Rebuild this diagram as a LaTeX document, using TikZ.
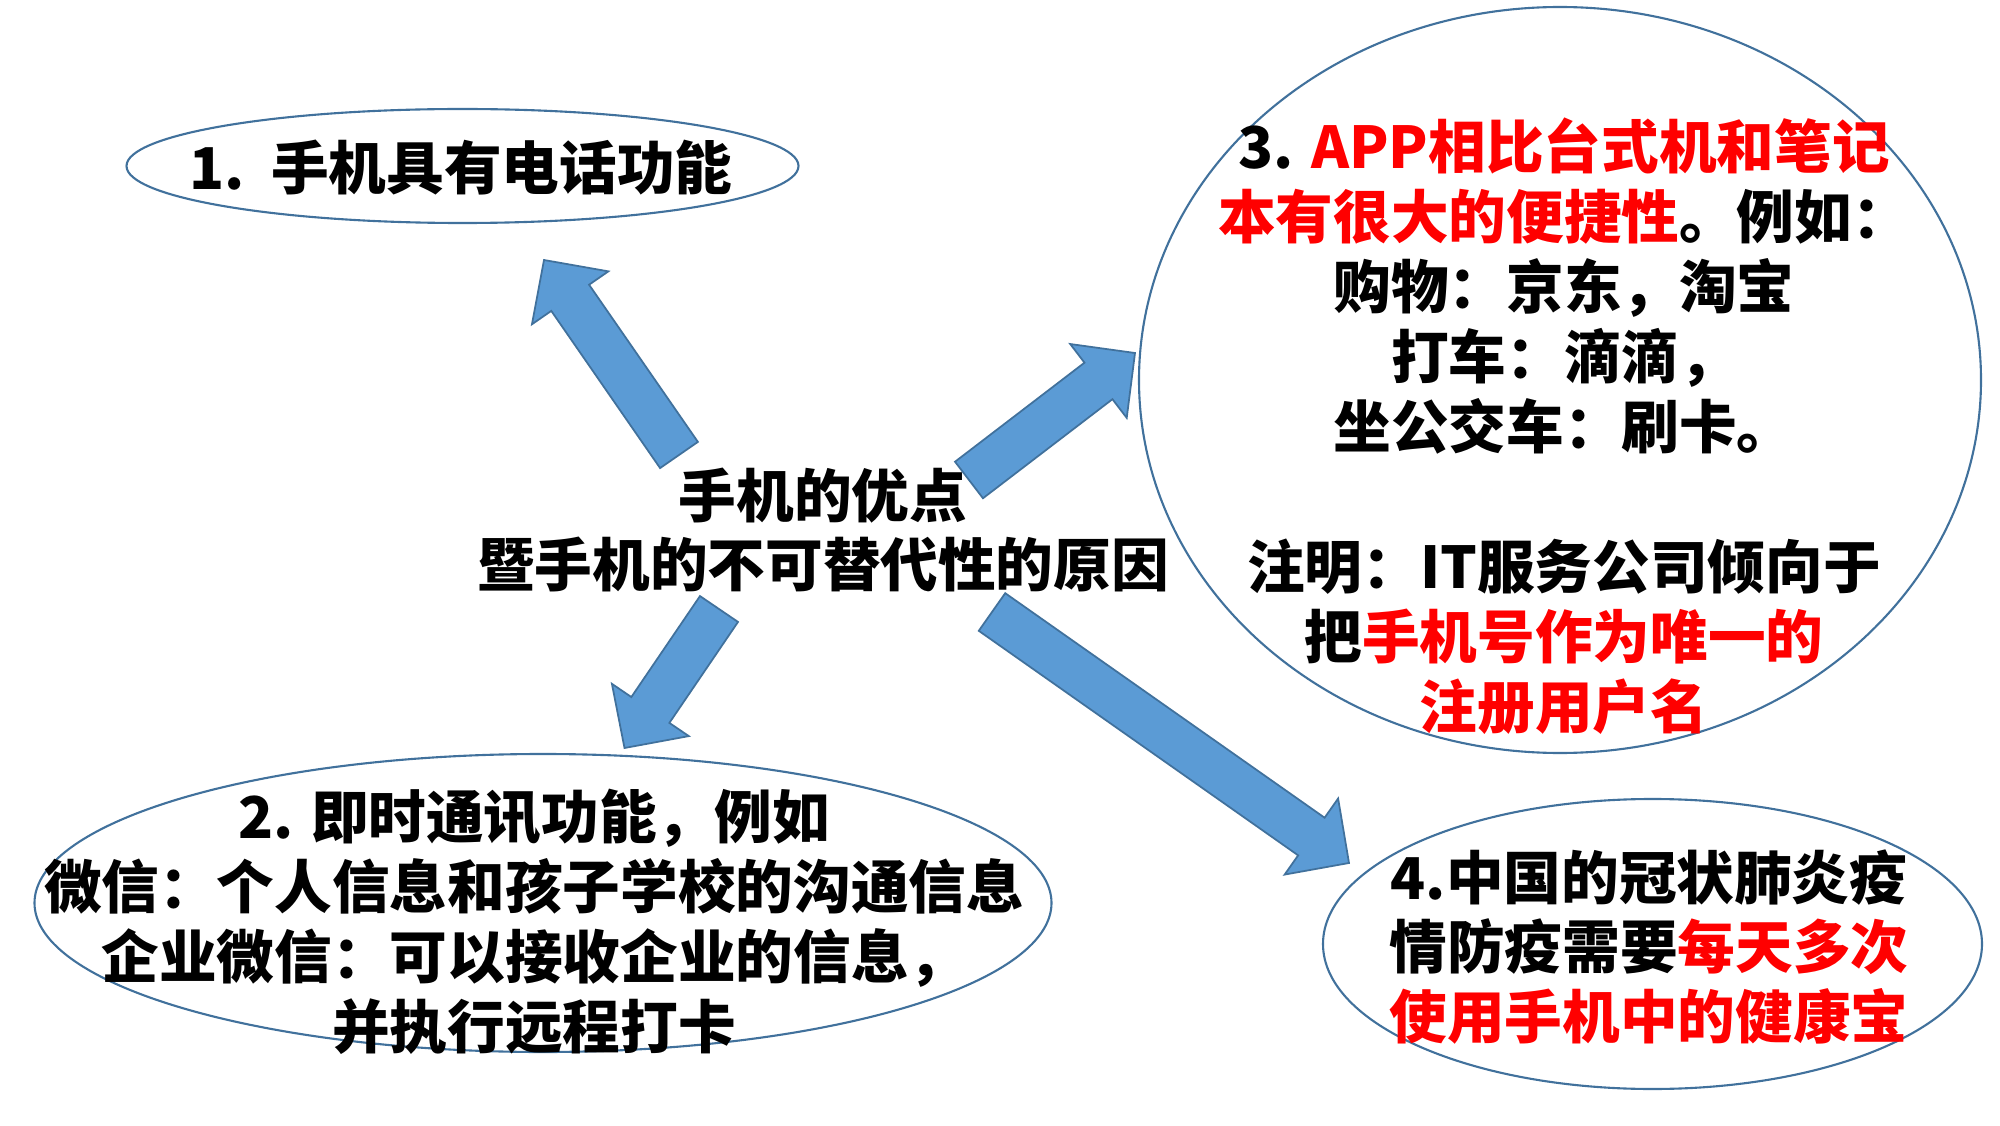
\documentclass[tikz,border=0pt]{standalone}
\usepackage{fontspec}
\setmainfont{Noto Sans CJK SC}
\usepackage{tikz}
\usetikzlibrary{shapes.geometric,calc,positioning}

\definecolor{arrowfill}{HTML}{5B9BD5}
\definecolor{arrowline}{HTML}{41719C}
\definecolor{bubbleline}{HTML}{41719C}

\begin{document}
\begin{tikzpicture}[
            bubble/.style={ellipse, draw=bubbleline, line width=0.6pt, inner sep=0pt}, % outlines only
            txt/.style={align=center, inner sep=0pt, font=\fontsize{16.4}{19.9}\selectfont\bfseries},
            fatarrow/.style={fill=arrowfill, draw=arrowline, line width=0.5pt, line join=miter}
        ]
            \useasboundingbox (0,0) rectangle (20,11.25);

            % the four bubbles
            \node[bubble, minimum width=6.72cm, minimum height=1.14cm] (b1) at (4.625,9.59) {};
            \node[bubble, minimum width=10.17cm, minimum height=2.98cm] (b2) at (5.43,2.22) {};
            \node[bubble, minimum width=8.42cm, minimum height=7.46cm] (b3) at (15.60,7.45) {};
            \node[bubble, minimum width=6.59cm, minimum height=2.90cm] (b4) at (16.525,1.81) {};

            % texts
            \node[txt] (main) at (8.23,5.95) {手机的优点\\暨手机的不可替代性的原因};
            \node[txt] (t1) at (4.61,9.57) {1.\ \ 手机具有电话功能};
            \node[txt] (t2) at (5.34,2.03) {2. 即时通讯功能，例如\\微信：个人信息和孩子学校的沟通信息\\企业微信：可以接收企业的信息，\\并执行远程打卡};
            \node[txt] (t3) at (15.64,6.99) {3. \textcolor{red}{APP相比台式机和笔记}\\\textcolor{red}{本有很大的便捷性}。例如：\\购物：京东，淘宝\\打车：滴滴，\\坐公交车：刷卡。\\[19.9pt]注明：IT服务公司倾向于\\把\textcolor{red}{手机号作为唯一的}\\\textcolor{red}{注册用户名}};
            \node[txt] (t4) at (16.49,1.78) {4.中国的冠状肺炎疫\\情防疫需要\textcolor{red}{每天多次}\\\textcolor{red}{使用手机中的健康宝}};

            % block arrows: tail and tip
            \coordinate (a1-t) at (6.79,6.70);  \coordinate (a1-h) at (5.44,8.65);
            \coordinate (a2-t) at (7.19,5.16);  \coordinate (a2-h) at (6.245,3.77);
            \coordinate (a3-t) at (9.69,6.45);  \coordinate (a3-h) at (11.35,7.72);
            \coordinate (a4-t) at (9.92,5.13);  \coordinate (a4-h) at (13.49,2.62);

            \foreach \a in {a1,a2,a3,a4} {
                \coordinate (\a-n) at ($(\a-h)!0.46cm!(\a-t)$);
                \draw[fatarrow] ($(\a-t)!0.23cm!90:(\a-h)$) -- ($(\a-n)!0.23cm!-90:(\a-t)$)
                    -- ($(\a-n)!0.465cm!-90:(\a-t)$) -- (\a-h)
                    -- ($(\a-n)!0.465cm!90:(\a-t)$) -- ($(\a-n)!0.23cm!90:(\a-t)$)
                    -- ($(\a-t)!0.23cm!-90:(\a-h)$) -- cycle;
            }
        \end{tikzpicture}
\end{document}
